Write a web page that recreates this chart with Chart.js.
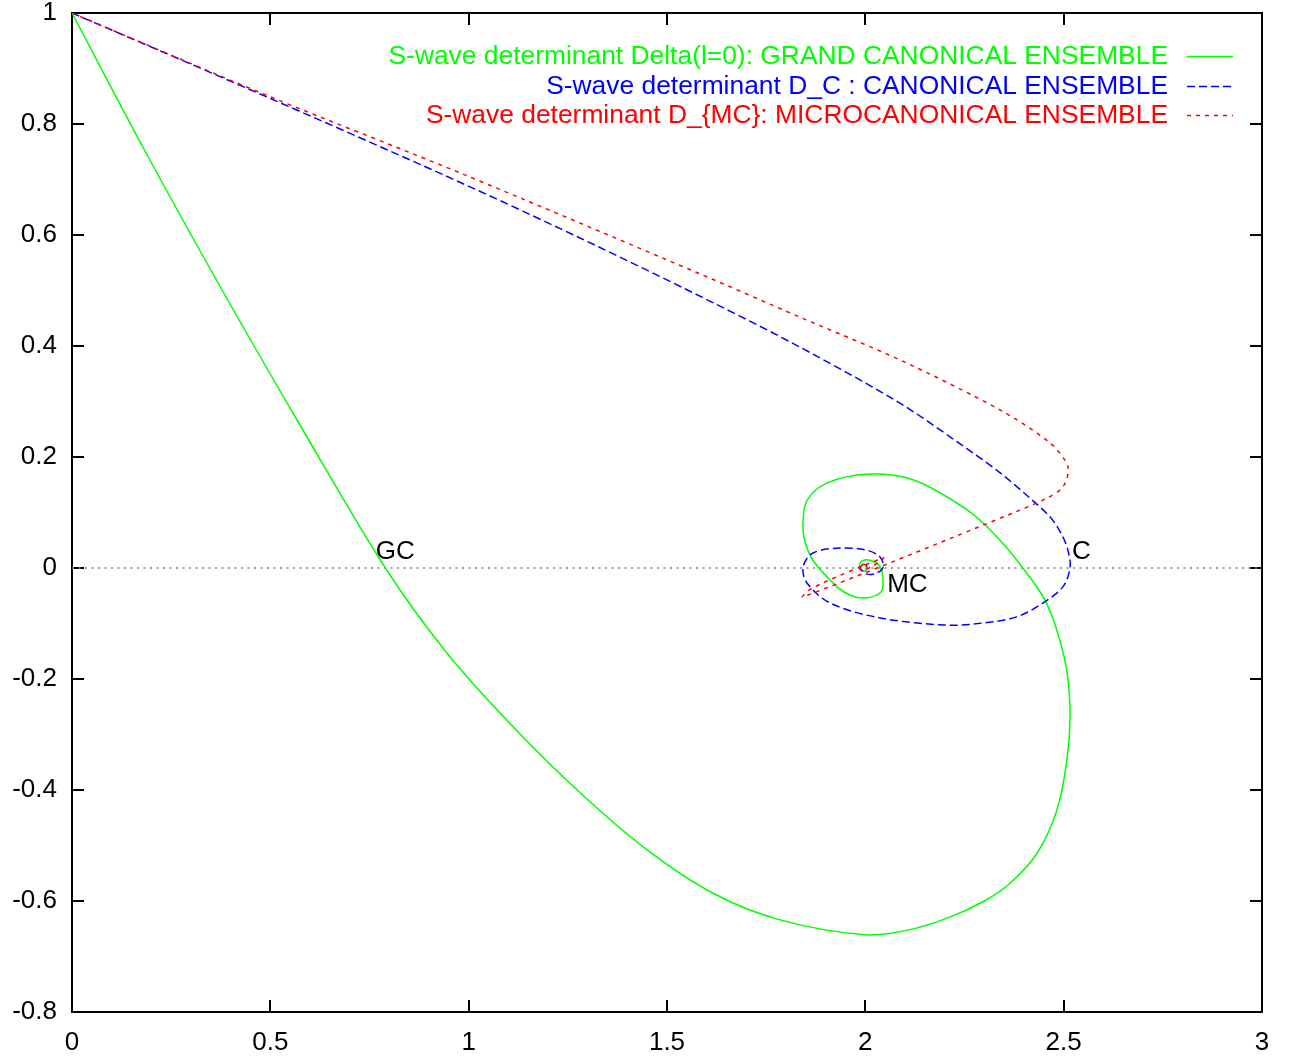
<!DOCTYPE html>
<html><head><meta charset="utf-8">
<script src="https://cdn.jsdelivr.net/npm/chart.js@4.4.1/dist/chart.umd.min.js"></script>
<style>html,body{margin:0;padding:0;background:#fff;overflow:hidden}</style>
</head><body>
<canvas id="c" width="1290" height="1059"></canvas>
<script>
// ---- Data ----
const gcX = [0, 0.185, 0.379, 0.581, 0.79, 0.945, 1.112, 1.281, 1.45, 1.616, 1.785, 2.0, 2.11, 2.213, 2.3, 2.365, 2.433, 2.483, 2.508, 2.516, 2.503, 2.458, 2.397, 2.332, 2.256, 2.12, 2.004, 1.903, 1.853, 1.843, 1.847, 1.868, 1.929, 1.965, 1.999, 2.037, 2.045, 2.037, 2.012, 1.99, 1.985, 1.997, 2.006, 2.0];
const gcY = [1, 0.75, 0.5, 0.25, 0.0, -0.153, -0.286, -0.405, -0.508, -0.586, -0.634, -0.661, -0.652, -0.629, -0.6, -0.568, -0.514, -0.436, -0.346, -0.256, -0.166, -0.065, 0.0, 0.056, 0.105, 0.159, 0.169, 0.153, 0.122, 0.083, 0.05, 0.014, -0.034, -0.05, -0.054, -0.045, -0.027, 0.002, 0.014, 0.012, 0.0, -0.006, 0.0, 0.005];

const cX = [0, 0.5, 0.978, 1.3, 1.588, 1.835, 2.087, 2.256, 2.339, 2.418, 2.468, 2.498, 2.512, 2.516, 2.498, 2.448, 2.382, 2.297, 2.206, 2.037, 1.911, 1.853, 1.843, 1.868, 1.936, 2.004, 2.037, 2.045, 2.029, 2.004, 1.987, 1.995, 2.005];
const cY = [1, 0.846, 0.695, 0.588, 0.488, 0.398, 0.297, 0.215, 0.172, 0.124, 0.09, 0.056, 0.028, 0.0, -0.034, -0.063, -0.088, -0.099, -0.103, -0.09, -0.063, -0.027, 0.002, 0.027, 0.036, 0.032, 0.02, 0.002, -0.009, -0.011, 0.0, 0.006, 0.003];

const mcX = [0, 0.5, 0.978, 1.583, 1.835, 2.087, 2.339, 2.466, 2.511, 2.498, 2.458, 2.372, 1.843, 1.866, 2.045, 2.02, 1.99, 1.985, 2.005];
const mcY = [1, 0.849, 0.712, 0.530, 0.452, 0.375, 0.285, 0.225, 0.182, 0.146, 0.126, 0.099, -0.052, -0.036, 0.018, 0.004, -0.004, 0.006, 0.006];

const zeroX = [0, 3];
const zeroY = [0, 0];

const seriesLabels = [
  'S-wave determinant Delta(l=0): GRAND CANONICAL ENSEMBLE',
  'S-wave determinant D_C : CANONICAL ENSEMBLE',
  'S-wave determinant D_{MC}: MICROCANONICAL ENSEMBLE'
];

const xTicks = [0, 0.5, 1, 1.5, 2, 2.5, 3];
const xTickLabels = ['0', '0.5', '1', '1.5', '2', '2.5', '3'];
const yTicks = [-0.8, -0.6, -0.4, -0.2, 0, 0.2, 0.4, 0.6, 0.8, 1];
const yTickLabels = ['-0.8', '-0.6', '-0.4', '-0.2', '0', '0.2', '0.4', '0.6', '0.8', '1'];

const noteTexts = ['GC', 'C', 'MC'];
const noteX = [0.766, 2.521, 2.055];
const noteY = [0.029, 0.029, -0.031];

// ---- Helpers ----
const FONT = '"Liberation Sans", Arial, Helvetica, sans-serif';
const toPts = (xs, ys) => xs.map((x, i) => ({x: x, y: ys[i]}));

const framePlugin = {
  id: 'frame',
  beforeDatasetsDraw(chart) {
    const {ctx, chartArea: a, scales} = chart;
    ctx.save();
    ctx.strokeStyle = '#000';
    ctx.lineWidth = 2;
    ctx.strokeRect(a.left, a.top, a.right - a.left, a.bottom - a.top);
    const tl = 12;
    ctx.beginPath();
    xTicks.forEach(v => {
      const px = Math.round(scales.x.getPixelForValue(v));
      ctx.moveTo(px, a.bottom); ctx.lineTo(px, a.bottom - tl);
      ctx.moveTo(px, a.top); ctx.lineTo(px, a.top + tl);
    });
    yTicks.forEach(v => {
      const py = Math.round(scales.y.getPixelForValue(v));
      ctx.moveTo(a.left, py); ctx.lineTo(a.left + tl, py);
      ctx.moveTo(a.right, py); ctx.lineTo(a.right - tl, py);
    });
    ctx.stroke();
    ctx.restore();
  }
};

const notesPlugin = {
  id: 'notes',
  afterDatasetsDraw(chart) {
    const {ctx, scales} = chart;
    ctx.save();
    ctx.font = '26px ' + FONT;
    ctx.fillStyle = '#000';
    ctx.textAlign = 'left';
    ctx.textBaseline = 'middle';
    noteTexts.forEach((t, i) => {
      ctx.fillText(t, scales.x.getPixelForValue(noteX[i]), scales.y.getPixelForValue(noteY[i]));
    });
    ctx.restore();
  }
};

const keyPlugin = {
  id: 'key',
  afterDraw(chart) {
    const {ctx, chartArea: a} = chart;
    ctx.save();
    ctx.font = '26.4px ' + FONT;
    ctx.textAlign = 'right';
    ctx.textBaseline = 'middle';
    let row = 0;
    chart.data.datasets.forEach(ds => {
      if (!ds.label) return;
      const y = a.top + 43 + row * 29.5;
      ctx.fillStyle = ds.borderColor;
      ctx.fillText(ds.label, a.right - 94, y + 1);
      ctx.strokeStyle = ds.borderColor;
      ctx.lineWidth = ds.borderWidth;
      ctx.setLineDash(ds.borderDash || []);
      ctx.beginPath();
      ctx.moveTo(a.right - 75, Math.round(y) + 0.5);
      ctx.lineTo(a.right - 29, Math.round(y) + 0.5);
      ctx.stroke();
      row++;
    });
    ctx.restore();
  }
};

const tickFont = {family: FONT, size: 26, lineHeight: 1};

new Chart(document.getElementById('c'), {
  type: 'scatter',
  data: {
    datasets: [
      {label: seriesLabels[0], data: toPts(gcX, gcY), borderColor: '#00ff00', borderWidth: 1.5, showLine: true, pointRadius: 0, tension: 0.33, order: 3},
      {label: seriesLabels[1], data: toPts(cX, cY), borderColor: '#0000ff', borderWidth: 1.5, borderDash: [8, 4], showLine: true, pointRadius: 0, tension: 0.33, order: 2},
      {label: seriesLabels[2], data: toPts(mcX, mcY), borderColor: '#ff0000', borderWidth: 1.5, borderDash: [4, 5], showLine: true, pointRadius: 0, tension: 0.3, order: 1},
      {label: '', data: toPts(zeroX, zeroY), borderColor: '#808080', borderWidth: 1.5, borderDash: [2, 4.5], showLine: true, pointRadius: 0, tension: 0, order: 10}
    ]
  },
  options: {
    responsive: false,
    animation: false,
    devicePixelRatio: 1,
    layout: {padding: {top: 13, right: 28, left: 0, bottom: 0}},
    plugins: {legend: {display: false}, tooltip: {enabled: false}},
    scales: {
      x: {
        type: 'linear', min: 0, max: 3,
        afterBuildTicks: s => { s.ticks = xTicks.map(v => ({value: v})); },
        afterFit: s => { s.height = 47; s.paddingLeft = 0; s.paddingRight = 0; },
        ticks: {callback: (v, i) => xTickLabels[i], font: tickFont, color: '#000', padding: 18, maxRotation: 0, autoSkip: false},
        grid: {display: false, drawTicks: false},
        border: {display: false}
      },
      y: {
        type: 'linear', min: -0.8, max: 1,
        afterBuildTicks: s => { s.ticks = yTicks.map(v => ({value: v})); },
        afterFit: s => { s.width = 72; s.paddingTop = 0; s.paddingBottom = 0; },
        ticks: {callback: (v, i) => yTickLabels[i], font: tickFont, color: '#000', padding: 15, autoSkip: false},
        grid: {display: false, drawTicks: false},
        border: {display: false}
      }
    }
  },
  plugins: [framePlugin, notesPlugin, keyPlugin]
});
</script>
</body></html>
